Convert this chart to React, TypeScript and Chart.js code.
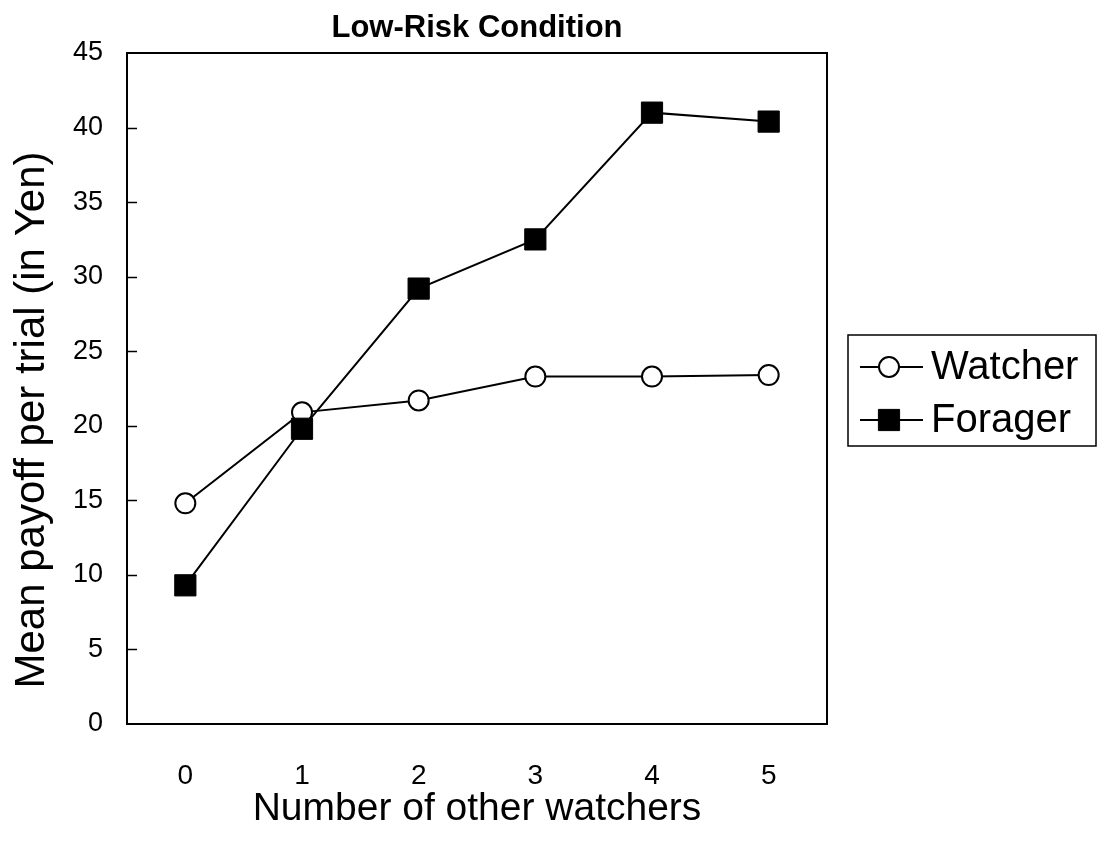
import React, { useEffect, useRef } from "react";
import { Chart, registerables } from "chart.js";

Chart.register(...registerables);

const categories = ["0", "1", "2", "3", "4", "5"];
const watcherValues = [14.8, 20.9, 21.7, 23.3, 23.3, 23.4];
const foragerValues = [9.3, 19.8, 29.2, 32.5, 41.0, 40.4];
const seriesNames = ["Watcher", "Forager"];
const chartTitle = "Low-Risk Condition";
const xAxisTitle = "Number of other watchers";
const yAxisTitle = "Mean payoff per trial (in Yen)";
const yMin = 0;
const yMax = 45;
const yStep = 5;

const FONT = "'Liberation Sans', Arial, Helvetica, sans-serif";

const framePlugin = {
  id: "frameAndTicks",
  beforeDatasetsDraw(chart: any) {
    const { ctx, chartArea: a, scales } = chart;
    ctx.save();
    ctx.strokeStyle = "#000";
    ctx.lineWidth = 2;
    ctx.strokeRect(a.left, a.top, a.right - a.left, a.bottom - a.top);
    const y = scales.y;
    ctx.lineWidth = 1.5;
    y.ticks.forEach((t: any) => {
      const py = y.getPixelForValue(t.value);
      if (py <= a.top + 1 || py >= a.bottom - 1) return;
      ctx.beginPath();
      ctx.moveTo(a.left, Math.round(py) + 0.5);
      ctx.lineTo(a.left + 10, Math.round(py) + 0.5);
      ctx.stroke();
    });
    ctx.restore();
  },
};

const textPlugin = {
  id: "titles",
  afterDraw(chart: any) {
    const { ctx, chartArea: a } = chart;
    ctx.save();
    ctx.fillStyle = "#000";
    ctx.font = `bold 31px ${FONT}`;
    ctx.textAlign = "center";
    ctx.textBaseline = "middle";
    ctx.fillText(chartTitle, (a.left + a.right) / 2, 28);
    ctx.translate(32, 420);
    ctx.rotate(-Math.PI / 2);
    ctx.font = `42px ${FONT}`;
    ctx.fillText(yAxisTitle, 0, 0);
    ctx.restore();
  },
};

function drawMarker(ctx: any, ds: any, x: number, y: number) {
  const r = ds.pointRadius;
  ctx.save();
  ctx.fillStyle = ds.pointBackgroundColor;
  ctx.strokeStyle = ds.pointBorderColor;
  ctx.lineWidth = ds.pointBorderWidth;
  ctx.beginPath();
  if (ds.pointStyle === "rect") {
    const h = r * Math.SQRT1_2;
    ctx.rect(x - h, y - h, 2 * h, 2 * h);
  } else {
    ctx.arc(x, y, r, 0, Math.PI * 2);
  }
  ctx.fill();
  ctx.stroke();
  ctx.restore();
}

const boxLegendPlugin = {
  id: "boxLegend",
  afterDraw(chart: any) {
    const { ctx, chartArea: a } = chart;
    const left = a.right + 21;
    const top = 335;
    const right = chart.width - 1;
    const bottom = 446;
    ctx.save();
    ctx.strokeStyle = "#000";
    ctx.lineWidth = 1.5;
    ctx.strokeRect(left, top, right - left, bottom - top);
    chart.data.datasets.forEach((ds: any, i: number) => {
      const cy = top + 32 + i * 53;
      ctx.strokeStyle = "#000";
      ctx.lineWidth = 2;
      ctx.beginPath();
      ctx.moveTo(left + 12, cy);
      ctx.lineTo(left + 75, cy);
      ctx.stroke();
      drawMarker(ctx, ds, left + 41, cy);
      ctx.fillStyle = "#000";
      ctx.font = `40px ${FONT}`;
      ctx.textAlign = "left";
      ctx.textBaseline = "middle";
      ctx.fillText(ds.label, left + 83, cy + 1);
    });
    ctx.restore();
  },
};

export default function App() {
  const canvasRef = useRef<HTMLCanvasElement | null>(null);

  useEffect(() => {
    if (!canvasRef.current) return;
    Chart.defaults.font.family = FONT;
    Chart.defaults.color = "#000";
    const chart = new Chart(canvasRef.current, {
      type: "line",
      data: {
        labels: categories,
        datasets: [
          {
            label: seriesNames[0],
            data: watcherValues,
            borderColor: "#000",
            borderWidth: 2,
            pointStyle: "circle",
            pointRadius: 10,
            pointHoverRadius: 10,
            pointBackgroundColor: "#fff",
            pointBorderColor: "#000",
            pointBorderWidth: 2,
            fill: false,
            tension: 0,
            order: 1,
          },
          {
            label: seriesNames[1],
            data: foragerValues,
            borderColor: "#000",
            borderWidth: 2,
            pointStyle: "rect",
            pointRadius: 15,
            pointHoverRadius: 15,
            pointBackgroundColor: "#000",
            pointBorderColor: "#000",
            pointBorderWidth: 1,
            fill: false,
            tension: 0,
            order: 0,
          },
        ],
      },
      options: {
        responsive: false,
        animation: false,
        events: [],
        layout: { padding: { top: 53, right: 270, left: 0, bottom: 0 } },
        plugins: {
          legend: { display: false },
          title: { display: false },
          tooltip: { enabled: false },
        },
        scales: {
          x: {
            type: "category",
            offset: true,
            grid: { display: false, drawTicks: false },
            border: { display: false },
            ticks: { font: { size: 28 }, color: "#000", padding: 35 },
            title: {
              display: true,
              text: xAxisTitle,
              font: { size: 39 },
              color: "#000",
              padding: { top: 0, bottom: 24 },
            },
            afterFit(scale: any) {
              scale.height = 857 - 53 - 671;
            },
          },
          y: {
            type: "linear",
            min: yMin,
            max: yMax,
            grid: { display: false, drawTicks: false },
            border: { display: false },
            ticks: { stepSize: yStep, font: { size: 27 }, color: "#000", padding: 24 },
            title: { display: false, text: yAxisTitle },
            afterFit(scale: any) {
              scale.width = 127;
            },
          },
        },
      },
      plugins: [framePlugin, textPlugin, boxLegendPlugin],
    } as any);
    return () => chart.destroy();
  }, []);

  return (
    <div style={{ position: "absolute", left: 0, top: 0, width: 1097, height: 857, background: "#fff" }}>
      <canvas ref={canvasRef} width={1097} height={857} style={{ display: "block" }} />
    </div>
  );
}
